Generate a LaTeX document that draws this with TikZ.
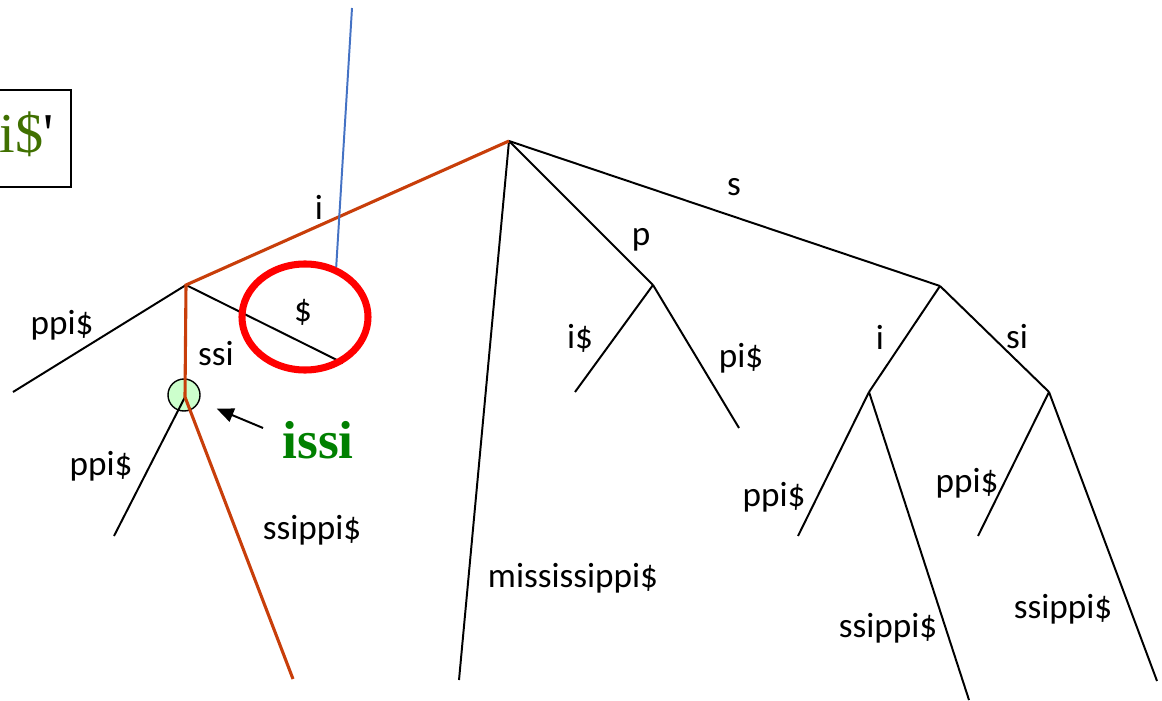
\documentclass[tikz,border=0pt]{standalone}
\usepackage{fontspec}
\setmainfont{Liberation Serif}
\setsansfont{Carlito}
\usetikzlibrary{arrows.meta,shapes.geometric}

\definecolor{pathred}{RGB}{200,62,10}
\definecolor{probeblue}{RGB}{68,114,196}
\definecolor{issigreen}{RGB}{0,128,0}
\definecolor{boxgreen}{RGB}{64,112,0}
\definecolor{hitfill}{RGB}{204,255,204}

\begin{document}
\begin{tikzpicture}[x=0.025cm,y=-0.025cm,
  edge/.style={line width=1.4pt},
  hitedge/.style={line width=2.2pt,draw=pathred},
  lbl/.style={font=\sffamily\fontsize{25}{28}\selectfont,inner sep=0pt}]
  \useasboundingbox (0,0) rectangle (1162,701);

  % query box, cut by the left border
  \draw[line width=1.4pt] (-20,90) rectangle (71,187);
  \node[anchor=base east,inner sep=0pt,font=\fontsize{40}{44}\selectfont]
    (query) at (54,153) {\textcolor{boxgreen}{i\$}\textquotesingle};

  % tree nodes
  \coordinate (root) at (509,141);
  \coordinate (ni) at (186,285);
  \coordinate (nissi) at (185,397);
  \coordinate (np) at (653,285);
  \coordinate (ns) at (940,286);
  \coordinate (nsi) at (869,392);
  \coordinate (nssi) at (1049,392);
  % leaves
  \coordinate (l1) at (13,392);
  \coordinate (l2) at (343,363);
  \coordinate (l3) at (114,536);
  \coordinate (l4) at (293,679);
  \coordinate (l5) at (459,680);
  \coordinate (l6) at (575,392);
  \coordinate (l7) at (739,428);
  \coordinate (l8) at (798,536);
  \coordinate (l9) at (969,700);
  \coordinate (l10) at (978,536);
  \coordinate (l11) at (1157,681);

  \node[circle,draw,line width=1pt,fill=hitfill,minimum size=0.8cm,inner sep=0pt]
    (issinode) at (184,395) {};

  \draw[edge] (ni) -- (l1);
  \draw[edge] (ni) -- (l2);
  \draw[edge] (nissi) -- (l3);
  \draw[edge] (root) -- (l5);
  \draw[edge] (root) -- (np);
  \draw[edge] (np) -- (l6);
  \draw[edge] (np) -- (l7);
  \draw[edge] (root) -- (ns);
  \draw[edge] (ns) -- (nsi);
  \draw[edge] (ns) -- (nssi);
  \draw[edge] (nsi) -- (l8);
  \draw[edge] (nsi) -- (l9);
  \draw[edge] (nssi) -- (l10);
  \draw[edge] (nssi) -- (l11);

  % matched path
  \draw[hitedge] (root) -- (ni) -- (nissi) -- (l4);

  % the $ edge that is marked
  \node[ellipse,draw=red,line width=5pt,minimum width=3.15cm,minimum height=2.65cm,inner sep=0pt]
    (dollarring) at (305,317) {};
  \coordinate (probe) at (352,8);
  \draw[probeblue,line width=1.4pt] (probe) -- (dollarring.58);

  \node[lbl] (e1) at (319,207) {i};
  \node[lbl] (e2) at (62,325) {ppi\$};
  \node[lbl] (e3) at (303,312) {\$};
  \node[lbl] (e4) at (216,354) {ssi};
  \node[lbl] (e5) at (101,466) {ppi\$};
  \node[lbl] (e6) at (312,530) {ssippi\$};
  \node[lbl] (e7) at (573,578) {mississippi\$};
  \node[lbl] (e8) at (641,240) {p};
  \node[lbl] (e9) at (580,338) {i\$};
  \node[lbl] (e10) at (741,358) {pi\$};
  \node[lbl] (e11) at (734,187) {s};
  \node[lbl] (e12) at (880,337) {i};
  \node[lbl] (e13) at (1017,337) {si};
  \node[lbl] (e14) at (774,497) {ppi\$};
  \node[lbl] (e15) at (888,628) {ssippi\$};
  \node[lbl] (e16) at (967,483) {ppi\$};
  \node[lbl] (e17) at (1063,609) {ssippi\$};

  \node[inner sep=0pt,text=issigreen,font=\bfseries\fontsize{38}{40}\selectfont]
    (issi) at (318,440) {issi};
  \draw[line width=1.4pt,-{Triangle[length=12pt,width=10pt]},shorten >=0.47cm]
    (issi.west) ++(-19,-12) -- (issinode);
\end{tikzpicture}
\end{document}
